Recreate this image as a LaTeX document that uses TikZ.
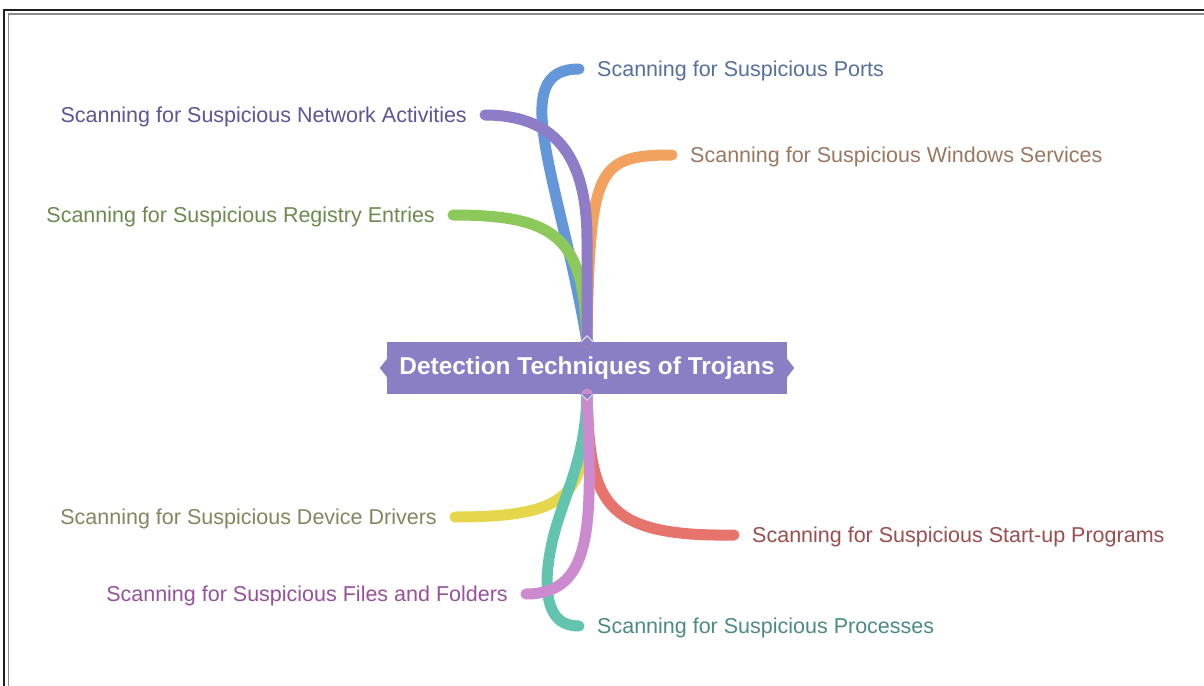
\documentclass[tikz,border=0pt]{standalone}
\usepackage{fontspec}
\setmainfont{Liberation Sans}
\definecolor{cbox}{HTML}{8A7FC5}
\definecolor{bblue}{HTML}{6496DA}
\definecolor{bpurple}{HTML}{8E7CC8}
\definecolor{borange}{HTML}{F2A25E}
\definecolor{bgreen}{HTML}{8CC85A}
\definecolor{byellow}{HTML}{E6D64C}
\definecolor{bred}{HTML}{E6746C}
\definecolor{bteal}{HTML}{62C4AE}
\definecolor{bpink}{HTML}{CC8ACF}
\definecolor{tblue}{HTML}{56709E}
\definecolor{tpurple}{HTML}{5E5496}
\definecolor{torange}{HTML}{9A7860}
\definecolor{tgreen}{HTML}{6D8A4E}
\definecolor{tyellow}{HTML}{858560}
\definecolor{tred}{HTML}{9A4E4E}
\definecolor{tteal}{HTML}{4C8A86}
\definecolor{tpink}{HTML}{96529A}
\begin{document}
\begin{tikzpicture}[x=1pt,y=-1pt,
  lbl/.style={inner xsep=18pt, inner ysep=0pt, text height=14pt, text depth=0pt,
              font=\fontsize{21.5}{25}\selectfont},
  branch/.style={line width=11pt, line cap=round}]
\useasboundingbox (0,0) rectangle (1204,685);
\fill[white] (0,0) rectangle (1204,685);
% frame
\draw[black!88, line width=2.5pt] (4,700) -- (4,10) -- (1215,10);
\draw[black!45, line width=1.5pt] (8.5,700) -- (8.5,14) -- (1215,14);

% central node
\node[fill=cbox, text=white, font=\fontsize{24.4}{28}\selectfont\bfseries,
      minimum width=400pt, minimum height=52pt, inner sep=0pt] (root) at (587,368)
      {Detection Techniques of Trojans};

% labels
\node[lbl, anchor=west, text=tblue]   (ports) at (579,69)  {Scanning for Suspicious Ports};
\node[lbl, anchor=east, text=tpurple] (net)   at (485,115) {Scanning for Suspicious Network Activities};
\node[lbl, anchor=west, text=torange] (win)   at (672,155) {Scanning for Suspicious Windows Services};
\node[lbl, anchor=east, text=tgreen]  (reg)   at (453,215) {Scanning for Suspicious Registry Entries};
\node[lbl, anchor=east, text=tyellow] (drv)   at (455,517) {Scanning for Suspicious Device Drivers};
\node[lbl, anchor=west, text=tred]    (st)    at (734,535) {Scanning for Suspicious Start-up Programs};
\node[lbl, anchor=east, text=tpink]   (files) at (526,594) {Scanning for Suspicious Files and Folders};
\node[lbl, anchor=west, text=tteal]   (proc)  at (579,626) {Scanning for Suspicious Processes};

% upper branches
\draw[branch, bblue]   (root.north) .. controls (560,180) and (505,69) .. (ports.west);
\draw[branch, bgreen]  (root.north) .. controls (584,240) and (560,215) .. (reg.east);
\draw[branch, borange] (root.north) .. controls (590,170) and (595,155) .. (win.west);
\draw[branch, bpurple] (root.north) -- (587,240) .. controls (587,150) and (550,115) .. (net.east);

% lower branches
\draw[branch, byellow] (root.south) .. controls (585,490) and (580,517) .. (drv.east);
\draw[branch, bred]    (root.south) .. controls (590,500) and (600,537) .. (st.west);
\draw[branch, bteal]   (root.south) .. controls (585,480) and (550,510) .. (547,580)
                       .. controls (547,615) and (560,626) .. (proc.west);
\draw[branch, bpink]   (root.south) .. controls (592,520) and (595,594) .. (files.east);

% notches of the central box
\fill[cbox] ([yshift=9pt]root.west) -- ([xshift=-7pt]root.west) -- ([yshift=-9pt]root.west) -- cycle;
\fill[cbox] ([yshift=9pt]root.east) -- ([xshift=7pt]root.east) -- ([yshift=-9pt]root.east) -- cycle;
\fill[cbox] ([xshift=-7pt]root.north) -- ([yshift=7pt]root.north) -- ([xshift=7pt]root.north) -- cycle;
\fill[cbox] ([xshift=-7pt]root.south) -- ([yshift=-7pt]root.south) -- ([xshift=7pt]root.south) -- cycle;
\draw[white!75!cbox, line width=1pt] ([xshift=-6pt]root.north) -- ([yshift=6pt]root.north) -- ([xshift=6pt]root.north);
\draw[white!75!cbox, line width=1pt] ([xshift=-6pt]root.south) -- ([yshift=-6pt]root.south) -- ([xshift=6pt]root.south);
\end{tikzpicture}
\end{document}
